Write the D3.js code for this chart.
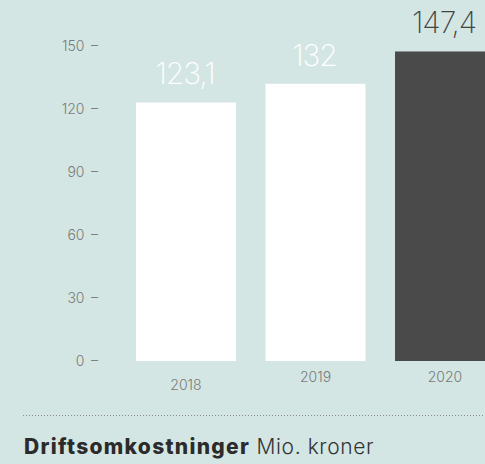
<!DOCTYPE html>
<html>
<head>
<meta charset="utf-8">
<script src="https://cdn.jsdelivr.net/npm/d3@7"></script>
<style>
  html, body { margin: 0; padding: 0; background: #d4e6e3; }
  svg { display: block; }
</style>
</head>
<body>
<script>
// chart data
const years = ["2018", "2019", "2020"];
const values = [123.1, 132, 147.4];
const valueLabels = ["123,1", "132", "147,4"];
const yTicks = [0, 30, 60, 90, 120, 150];
const titleBold = "Driftsomkostninger";
const titleRest = " Mio. kroner";

const width = 485, height = 464;
const font = "Inter, Lato, sans-serif";

const svg = d3.select("body").append("svg")
  .attr("width", width)
  .attr("height", height);

svg.append("rect")
  .attr("width", width)
  .attr("height", height)
  .attr("fill", "#d4e6e3");

const x = d3.scaleBand()
  .domain(years)
  .range([136, 495])
  .paddingInner(0.228)
  .paddingOuter(0);

const y = d3.scaleLinear()
  .domain([0, 150])
  .range([361, 46]);

// y axis, the dash is part of the label
const yAxis = svg.append("g")
  .attr("transform", "translate(98,0)")
  .call(d3.axisLeft(y).tickValues(yTicks).tickSize(0).tickPadding(0)
    .tickFormat(d => d + " \u2009\u2013"));
yAxis.select(".domain").remove();
yAxis.selectAll("text")
  .attr("font-family", font)
  .attr("font-weight", 300)
  .attr("font-size", 14)
  .style("white-space", "pre")
  .attr("fill", "#7a7a7a");

// bars
svg.append("g")
  .selectAll("rect")
  .data(values)
  .enter().append("rect")
  .attr("x", (d, i) => x(years[i]))
  .attr("y", d => y(d))
  .attr("width", x.bandwidth())
  .attr("height", d => y(0) - y(d))
  .attr("fill", (d, i) => i === values.length - 1 ? "#4a4a4a" : "#ffffff");

// value labels above bars
svg.append("g")
  .selectAll("text")
  .data(values)
  .enter().append("text")
  .attr("x", (d, i) => x(years[i]) + x.bandwidth() / 2 - 1)
  .attr("y", d => y(d) - 18)
  .attr("text-anchor", "middle")
  .attr("font-family", font)
  .attr("font-weight", 200)
  .attr("font-size", 30)
  .attr("letter-spacing", -1)
  .attr("fill", (d, i) => i === values.length - 1 ? "#444444" : "#ffffff")
  .text((d, i) => valueLabels[i]);

// year labels (the first one sits a bit lower in the original)
svg.append("g")
  .selectAll("text")
  .data(years)
  .enter().append("text")
  .attr("x", d => x(d) + x.bandwidth() / 2)
  .attr("y", (d, i) => i === 0 ? 390 : 382)
  .attr("text-anchor", "middle")
  .attr("font-family", font)
  .attr("font-weight", 300)
  .attr("font-size", 14)
  .attr("fill", "#7a7a7a")
  .text(d => d);

// dotted separator
svg.append("line")
  .attr("x1", 23).attr("x2", width)
  .attr("y1", 415.5).attr("y2", 415.5)
  .attr("stroke", "#8a8a8a")
  .attr("stroke-width", 1)
  .attr("stroke-dasharray", "1,2");

// title
const title = svg.append("text")
  .attr("x", 24)
  .attr("y", 454)
  .attr("font-family", font)
  .attr("font-size", 21)
  .attr("fill", "#2b2b2b");
title.append("tspan").attr("font-weight", 800).attr("letter-spacing", 1.3).text(titleBold);
title.append("tspan").attr("font-weight", 300).attr("letter-spacing", 0.6).attr("fill", "#333").text(titleRest);
</script>
</body>
</html>
